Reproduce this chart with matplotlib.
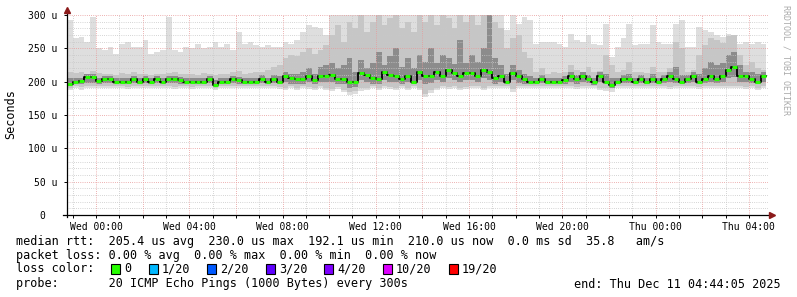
import matplotlib
matplotlib.use("Agg")
import matplotlib.pyplot as plt
from matplotlib.patches import Rectangle

# hours relative to Wed 00:00, one value per 15 min bin starting Tue 22:45
bin_start = -1.25
bin_hours = 0.25

# upper edge of the light smoke (max ping), in us
hi = [292, 265, 267, 260, 297, 250, 247, 252, 242, 257,
      260, 252, 252, 262, 242, 245, 247, 297, 247, 245,
      252, 250, 257, 250, 252, 260, 252, 257, 247, 275,
      257, 260, 255, 252, 255, 252, 252, 260, 257, 262,
      275, 285, 282, 280, 270, 300, 300, 300, 300, 300,
      300, 300, 300, 300, 300, 300, 300, 300, 300, 300,
      300, 300, 300, 300, 300, 300, 300, 300, 300, 300,
      300, 300, 300, 300, 300, 277, 300, 287, 297, 292,
      257, 260, 260, 260, 257, 252, 272, 262, 260, 270,
      257, 255, 287, 237, 252, 265, 287, 255, 257, 257,
      285, 260, 257, 257, 287, 292, 252, 252, 282, 277,
      275, 270, 267, 272, 270, 257, 260, 257, 260, 257]

# lower edge of the light smoke (min ping)
lo = [188, 190, 188, 191, 190, 190, 191, 190, 191, 190,
      189, 190, 191, 190, 191, 190, 191, 190, 189, 190,
      190, 189, 190, 190, 190, 188, 190, 191, 190, 190,
      191, 190, 190, 191, 190, 190, 189, 188, 190, 188,
      190, 189, 188, 190, 188, 186, 189, 185, 180, 182,
      186, 188, 190, 188, 190, 189, 187, 190, 188, 190,
      188, 177, 183, 188, 190, 189, 190, 188, 189, 190,
      190, 188, 190, 190, 191, 190, 185, 190, 190, 191,
      191, 190, 190, 191, 190, 190, 190, 189, 190, 190,
      190, 188, 186, 185, 190, 190, 191, 190, 191, 190,
      190, 191, 190, 189, 190, 190, 191, 190, 189, 190,
      190, 190, 191, 190, 190, 190, 189, 190, 188, 190]

# medium grey smoke band
mid_lo = [191, 193, 192, 194, 193, 193, 194, 193, 194, 193,
          192, 193, 194, 193, 194, 193, 194, 193, 192, 193,
          193, 192, 193, 193, 193, 191, 193, 194, 193, 193,
          194, 193, 193, 194, 193, 193, 192, 191, 193, 191,
          193, 192, 191, 193, 191, 189, 192, 188, 184, 186,
          190, 191, 193, 191, 193, 192, 190, 193, 191, 193,
          191, 182, 187, 191, 193, 192, 193, 191, 192, 193,
          193, 191, 193, 193, 194, 193, 189, 193, 193, 194,
          194, 193, 193, 194, 193, 193, 193, 192, 193, 193,
          193, 191, 190, 190, 193, 193, 194, 193, 194, 193,
          193, 194, 193, 192, 193, 193, 194, 193, 192, 193,
          193, 193, 194, 193, 193, 193, 192, 193, 191, 193]
mid_hi = [215, 213, 214, 212, 216, 213, 212, 212, 210, 213,
          212, 214, 211, 212, 210, 212, 211, 213, 214, 212,
          211, 212, 210, 213, 212, 210, 211, 212, 214, 216,
          212, 213, 214, 215, 218, 222, 225, 235, 240, 238,
          245, 250, 242, 248, 255, 270, 285, 260, 290, 280,
          300, 275, 290, 300, 285, 295, 300, 280, 290, 275,
          300, 290, 300, 285, 300, 295, 280, 300, 290, 300,
          285, 300, 300, 290, 280, 250, 265, 270, 245, 235,
          215, 220, 212, 214, 213, 215, 225, 218, 214, 222,
          214, 216, 240, 225, 214, 218, 230, 214, 215, 213,
          222, 214, 215, 220, 260, 250, 215, 218, 240, 255,
          265, 262, 258, 268, 270, 240, 225, 230, 220, 218]

# dark smoke band around the median
dark_lo = [194, 196, 196, 198, 198, 196, 198, 198, 196, 196,
           196, 198, 196, 198, 196, 198, 196, 198, 198, 197,
           196, 196, 196, 196, 198, 192, 196, 196, 198, 197,
           196, 196, 196, 198, 196, 198, 196, 199, 197, 196,
           197, 199, 196, 199, 199, 200, 196, 196, 190, 192,
           202, 200, 197, 196, 203, 200, 199, 197, 199, 196,
           203, 196, 198, 203, 199, 205, 202, 199, 202, 202,
           199, 205, 203, 197, 199, 196, 202, 198, 197, 196,
           196, 198, 196, 196, 196, 197, 199, 197, 199, 198,
           195, 199, 196, 191, 196, 198, 198, 196, 198, 196,
           198, 196, 198, 199, 198, 196, 198, 199, 196, 198,
           199, 198, 199, 205, 207, 199, 199, 198, 196, 199]
dark_hi = [205, 205, 206, 212, 212, 206, 208, 208, 205, 205,
           206, 209, 205, 209, 205, 209, 206, 209, 209, 207,
           205, 205, 206, 205, 209, 202, 206, 205, 209, 207,
           205, 206, 205, 210, 206, 210, 208, 215, 212, 212,
           215, 220, 212, 222, 225, 228, 220, 225, 235, 215,
           232, 220, 228, 245, 225, 238, 250, 222, 235, 220,
           240, 230, 250, 228, 240, 235, 226, 262, 228, 240,
           230, 250, 300, 235, 225, 212, 225, 218, 212, 208,
           206, 210, 206, 206, 206, 208, 215, 210, 215, 210,
           206, 215, 212, 205, 206, 210, 212, 206, 210, 206,
           212, 206, 210, 215, 222, 210, 210, 215, 212, 220,
           230, 225, 228, 240, 245, 225, 215, 215, 212, 214]

# median rtt
median = [197, 200, 201, 207, 207, 201, 204, 204, 200, 200,
          200, 204, 200, 204, 200, 204, 200, 204, 204, 202,
          200, 200, 200, 200, 204, 195, 200, 200, 204, 202,
          200, 200, 200, 204, 200, 204, 200, 208, 205, 204,
          204, 208, 202, 208, 209, 210, 204, 204, 199, 200,
          213, 210, 205, 204, 214, 210, 209, 204, 208, 200,
          214, 209, 209, 214, 209, 217, 213, 209, 213, 213,
          209, 218, 215, 205, 209, 200, 213, 209, 204, 200,
          200, 204, 200, 200, 200, 202, 209, 204, 209, 204,
          199, 209, 200, 195, 200, 204, 204, 200, 204, 200,
          204, 200, 204, 209, 204, 200, 204, 209, 200, 204,
          209, 204, 209, 217, 222, 209, 209, 204, 200, 209]

y_ticks = [0, 50, 100, 150, 200, 250, 300]
y_labels = ["0  ", "50 u", "100 u", "150 u", "200 u", "250 u", "300 u"]
x_ticks = [0, 4, 8, 12, 16, 20, 24, 28]
x_labels = ["Wed 00:00", "Wed 04:00", "Wed 08:00", "Wed 12:00",
            "Wed 16:00", "Wed 20:00", "Thu 00:00", "Thu 04:00"]

loss_labels = ["0", "1/20", "2/20", "3/20", "4/20", "10/20", "19/20"]
loss_colors = ["#26ff00", "#00b8ff", "#0059ff", "#5e00ff", "#7e00ff", "#dd00ff", "#ff0000"]

mono = "DejaVu Sans Mono"
W, H = 797, 297

fig = plt.figure(figsize=(W / 100, H / 100), dpi=100)
fig.patch.set_facecolor("white")
ax = fig.add_axes([67 / W, 82 / H, 701 / W, 200 / H])
ax.set_xlim(-1.244, 28.82)
ax.set_ylim(0, 300)

n = len(median)
edges = [bin_start + bin_hours * i for i in range(n + 1)]

def band(low, high, color, z):
    ax.fill_between(edges, low + [low[-1]], high + [high[-1]], step="post",
                    color=color, linewidth=0, zorder=z)

band(lo, hi, "#dedede", 1)
band(mid_lo, mid_hi, "#c6c6c6", 2)
band(dark_lo, dark_hi, "#8c8c8c", 3)

# grid on top of the smoke
dots = (0, (0.72, 1.44))
for v in range(10, 301, 10):
    major = v % 50 == 0
    ax.axhline(v, color="#e89a9a" if major else "#c8c8c8", lw=0.72,
               linestyle=dots, zorder=4)
for h in range(-1, 29):
    major = h % 2 == 0
    ax.axvline(h, color="#e89a9a" if major else "#c8c8c8", lw=0.72,
               linestyle=dots, zorder=4)

# median: black step line with green loss-colour segments
ax.step(edges, median + [median[-1]], where="post", color="black", lw=1.3, zorder=5)
ax.hlines(median, [e + 0.02 for e in edges[:-1]], [e - 0.02 for e in edges[1:]],
          colors=loss_colors[0], lw=2.2, zorder=6)

for s in ax.spines.values():
    s.set_visible(False)
ax.plot([-0.006, 1.004], [0, 0], transform=ax.transAxes, color="black",
        lw=0.9, clip_on=False, zorder=7)
ax.plot([0, 0], [-0.012, 1.02], transform=ax.transAxes, color="black",
        lw=0.9, clip_on=False, zorder=7)
ax.plot([1.006], [0], marker=">", ms=4, color="#8b1a1a", transform=ax.transAxes,
        clip_on=False, zorder=8)
ax.plot([0], [1.025], marker="^", ms=4, color="#8b1a1a", transform=ax.transAxes,
        clip_on=False, zorder=8)

ax.set_yticks(y_ticks)
ax.set_yticklabels(y_labels, fontfamily=mono, fontsize=7)
ax.set_xticks(x_ticks)
ax.set_xticklabels(x_labels, fontfamily=mono, fontsize=7)
ax.set_xticks(range(-1, 29), minor=True)
ax.tick_params(axis="y", length=2, width=0.7, pad=5)
ax.tick_params(axis="x", which="both", length=2, width=0.7, pad=3, direction="out")

fig.text(11 / W, 1 - 114 / H, "Seconds", rotation=90, fontfamily=mono,
         fontsize=8.5, ha="center", va="center")
fig.text(786 / W, 1 - 5 / H, "RRDTOOL / TOBI OETIKER", rotation=270, fontfamily=mono,
         fontsize=6, color="#aaaaaa", ha="center", va="top")

cw = 7.1
rows = [
    (241, "median rtt:  205.4 us avg  230.0 us max  192.1 us min  210.0 us now  0.0 ms sd  35.8   am/s"),
    (256, "packet loss: 0.00 % avg  0.00 % max  0.00 % min  0.00 % now"),
    (269, "loss color:"),
    (284, "probe:       20 ICMP Echo Pings (1000 Bytes) every 300s"),
]
for y, txt in rows:
    fig.text(16 / W, 1 - y / H, txt, fontfamily=mono, fontsize=8.5,
             ha="left", va="center")
fig.text(781 / W, 1 - 284 / H, "end: Thu Dec 11 04:44:05 2025", fontfamily=mono,
         fontsize=8.5, ha="right", va="center")

cur = 16 + 13 * cw
for lab, col in zip(loss_labels, loss_colors):
    fig.patches.append(Rectangle(((cur + 3) / W, 1 - 274 / H), 9 / W, 10 / H,
                                 transform=fig.transFigure, facecolor=col,
                                 edgecolor="black", lw=0.8))
    fig.text((cur + 16) / W, 1 - 269 / H, lab, fontfamily=mono, fontsize=8.5,
             ha="left", va="center")
    cur += 16 + len(lab) * cw + 2 * cw

fig.savefig("out.png", dpi=100)
